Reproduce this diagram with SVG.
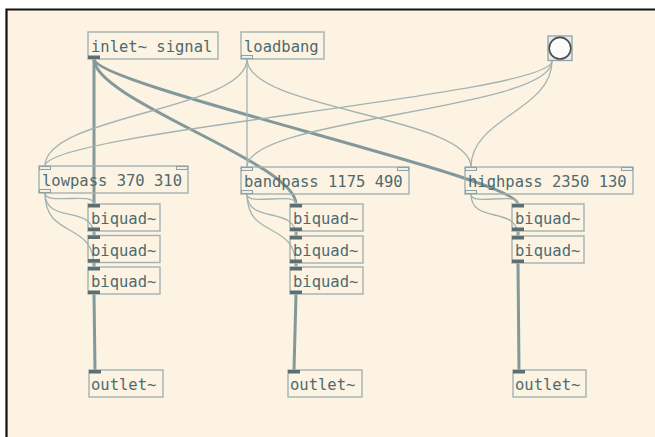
<svg xmlns="http://www.w3.org/2000/svg" width="655" height="437" viewBox="0 0 655 437">
  <style>
    .box { fill: none; stroke: #a0b1b3; stroke-width: 1.4; }
    .lbl { font-family: "DejaVu Sans Mono", "Liberation Mono", monospace; font-size: 15.5px; fill: #4f6a6f; }
    .sig { fill: #5b6f73; }
    .ctl { fill: #eef0ea; stroke: #8ea0a2; stroke-width: 1; }
    .sigcord { fill: none; stroke: #83989b; stroke-width: 3; }
    .ctlcord { fill: none; stroke: #a2b3b3; stroke-width: 1.3; }
  </style>

  <!-- page and canvas frame -->
  <rect x="0" y="0" width="655" height="437" fill="#ffffff"/>
  <rect x="7" y="10" width="648" height="427" fill="#fdf3e2"/>
  <path d="M6.5,437 V9.5 H655" fill="none" stroke="#111" stroke-width="2.2"/>

  <!-- patch cords -->
  <g id="cords">
    <!-- audio cords -->
    <path class="sigcord" d="M94,59 V204"/>
    <path class="sigcord" d="M94,59 C94,100 296,163 296,204"/>
    <path class="sigcord" d="M94,59 C94,85 518,178 518,204"/>
    <path class="sigcord" d="M94,231 V235.5"/>
    <path class="sigcord" d="M94,262.5 V267"/>
    <path class="sigcord" d="M94,294 L95,370"/>
    <path class="sigcord" d="M296,231 V236"/>
    <path class="sigcord" d="M296,263 V267"/>
    <path class="sigcord" d="M296,294 L294,370"/>
    <path class="sigcord" d="M518,231 V236"/>
    <path class="sigcord" d="M518,263 L519,370"/>

    <!-- control cords -->
    <path class="ctlcord" d="M247,59 C247,110 45,115 45,166"/>
    <path class="ctlcord" d="M247,59 V167"/>
    <path class="ctlcord" d="M247,59 C247,110 471,116 471,167"/>
    <path class="ctlcord" d="M552,61 C552,95 45,132 45,166"/>
    <path class="ctlcord" d="M552,61 C552,110 247,118 247,167"/>
    <path class="ctlcord" d="M552,61 C552,110 471,118 471,167"/>

    <path class="ctlcord" d="M45,193 C45,206 94,191 94,204"/>
    <path class="ctlcord" d="M45,193 C45,225 94,204 94,235.5"/>
    <path class="ctlcord" d="M45,193 C45,240 94,220 94,267"/>
    <path class="ctlcord" d="M247,194 C247,207 296,191 296,204"/>
    <path class="ctlcord" d="M247,194 C247,225 296,205 296,236"/>
    <path class="ctlcord" d="M247,194 C247,240 296,220 296,267"/>
    <path class="ctlcord" d="M471,194 C471,207 518,191 518,204"/>
    <path class="ctlcord" d="M471,194 C471,225 518,205 518,236"/>
  </g>

  <!-- objects -->
  <g id="inlet-signal">
    <rect class="box" x="88" y="32" width="130" height="27"/>
    <rect class="sig" x="88" y="55.5" width="12" height="3.5"/>
    <text class="lbl" x="91" y="52">inlet~ signal</text>
  </g>

  <g id="loadbang">
    <rect class="box" x="241" y="32" width="83" height="27"/>
    <rect class="ctl" x="241.5" y="55.5" width="11" height="3"/>
    <text class="lbl" x="244" y="52">loadbang</text>
  </g>

  <g id="bang">
    <rect x="548" y="36" width="24" height="24.5" fill="#e9ece9" stroke="#8fa2a6" stroke-width="1.3"/>
    <circle cx="560" cy="48.2" r="10.8" fill="#fbfbfa" stroke="#4a4f50" stroke-width="1.6"/>
  </g>

  <g id="lowpass">
    <rect class="box" x="39" y="166" width="149" height="27"/>
    <rect class="ctl" x="39.5" y="166.5" width="11" height="3"/>
    <rect class="ctl" x="176.5" y="166.5" width="11" height="3"/>
    <rect class="ctl" x="39.5" y="189.5" width="11" height="3"/>
    <text class="lbl" x="42" y="186">lowpass 370 310</text>
  </g>

  <g id="bandpass">
    <rect class="box" x="241" y="167" width="168" height="27"/>
    <rect class="ctl" x="241.5" y="167.5" width="11" height="3"/>
    <rect class="ctl" x="397.5" y="167.5" width="11" height="3"/>
    <rect class="ctl" x="241.5" y="190.5" width="11" height="3"/>
    <text class="lbl" x="244" y="187">bandpass 1175 490</text>
  </g>

  <g id="highpass">
    <rect class="box" x="465" y="167" width="168" height="27"/>
    <rect class="ctl" x="465.5" y="167.5" width="11" height="3"/>
    <rect class="ctl" x="621.5" y="167.5" width="11" height="3"/>
    <rect class="ctl" x="465.5" y="190.5" width="11" height="3"/>
    <text class="lbl" x="468" y="187">highpass 2350 130</text>
  </g>

  <g id="biquad-lp-1">
    <rect class="box" x="88" y="204" width="72" height="27"/>
    <rect class="sig" x="88" y="204" width="12" height="3.5"/>
    <rect class="sig" x="88" y="227.5" width="12" height="3.5"/>
    <text class="lbl" x="91" y="224">biquad~</text>
  </g>
  <g id="biquad-lp-2">
    <rect class="box" x="88" y="235.5" width="72" height="27"/>
    <rect class="sig" x="88" y="235.5" width="12" height="3.5"/>
    <rect class="sig" x="88" y="259" width="12" height="3.5"/>
    <text class="lbl" x="91" y="255.5">biquad~</text>
  </g>
  <g id="biquad-lp-3">
    <rect class="box" x="88" y="267" width="72" height="27"/>
    <rect class="sig" x="88" y="267" width="12" height="3.5"/>
    <rect class="sig" x="88" y="290.5" width="12" height="3.5"/>
    <text class="lbl" x="91" y="287">biquad~</text>
  </g>

  <g id="biquad-bp-1">
    <rect class="box" x="290" y="204" width="73" height="27"/>
    <rect class="sig" x="290" y="204" width="12" height="3.5"/>
    <rect class="sig" x="290" y="227.5" width="12" height="3.5"/>
    <text class="lbl" x="293" y="224">biquad~</text>
  </g>
  <g id="biquad-bp-2">
    <rect class="box" x="290" y="236" width="73" height="27"/>
    <rect class="sig" x="290" y="236" width="12" height="3.5"/>
    <rect class="sig" x="290" y="259.5" width="12" height="3.5"/>
    <text class="lbl" x="293" y="256">biquad~</text>
  </g>
  <g id="biquad-bp-3">
    <rect class="box" x="290" y="267" width="73" height="27"/>
    <rect class="sig" x="290" y="267" width="12" height="3.5"/>
    <rect class="sig" x="290" y="290.5" width="12" height="3.5"/>
    <text class="lbl" x="293" y="287">biquad~</text>
  </g>

  <g id="biquad-hp-1">
    <rect class="box" x="512" y="204" width="72" height="27"/>
    <rect class="sig" x="512" y="204" width="12" height="3.5"/>
    <rect class="sig" x="512" y="227.5" width="12" height="3.5"/>
    <text class="lbl" x="515" y="224">biquad~</text>
  </g>
  <g id="biquad-hp-2">
    <rect class="box" x="512" y="236" width="72" height="27"/>
    <rect class="sig" x="512" y="236" width="12" height="3.5"/>
    <rect class="sig" x="512" y="259.5" width="12" height="3.5"/>
    <text class="lbl" x="515" y="256">biquad~</text>
  </g>

  <g id="outlet-lp">
    <rect class="box" x="89" y="370" width="74" height="27"/>
    <rect class="sig" x="89" y="370" width="12" height="3.5"/>
    <text class="lbl" x="91" y="390">outlet~</text>
  </g>
  <g id="outlet-bp">
    <rect class="box" x="288" y="370" width="74" height="27"/>
    <rect class="sig" x="288" y="370" width="12" height="3.5"/>
    <text class="lbl" x="290" y="390">outlet~</text>
  </g>
  <g id="outlet-hp">
    <rect class="box" x="513" y="370" width="73" height="27"/>
    <rect class="sig" x="513" y="370" width="12" height="3.5"/>
    <text class="lbl" x="515" y="390">outlet~</text>
  </g>
</svg>
